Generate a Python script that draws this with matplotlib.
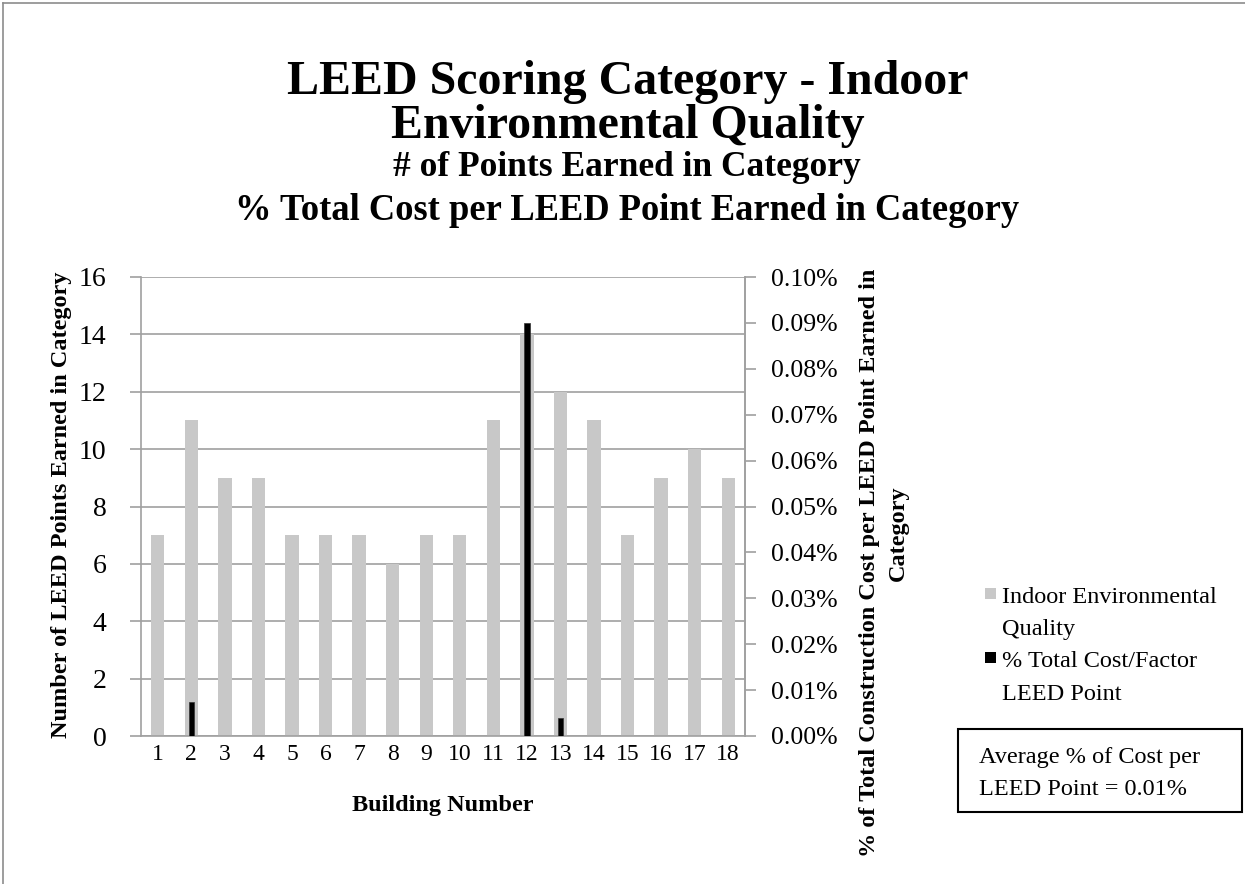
import matplotlib
matplotlib.use("Agg")
import matplotlib.pyplot as plt
from matplotlib.lines import Line2D
import numpy as np

plt.rcParams['font.family'] = ['Liberation Serif', 'DejaVu Serif']

buildings = [str(i) for i in range(1, 19)]
ieq_points = [7, 11, 9, 9, 7, 7, 7, 6, 7, 7, 11, 14, 12, 11, 7, 9, 10, 9]
pct_cost = [0, 0.0075, 0, 0, 0, 0, 0, 0, 0, 0, 0, 0.090, 0.0039, 0, 0, 0, 0, 0]

W, H = 1245, 884
fig = plt.figure(figsize=(W / 100, H / 100), dpi=100)

def fx(px):
    return px / W

def fy(py):
    return 1 - py / H

# outer chart border (top and left visible)
fig.add_artist(Line2D([fx(3), 1], [fy(3), fy(3)], color='#8c8c8c', lw=1.2))
fig.add_artist(Line2D([fx(3), fx(3)], [fy(3), 0], color='#8c8c8c', lw=1.2))

ax = fig.add_axes([fx(141), fy(736), fx(745) - fx(141), fy(277) - fy(736)])
x = np.arange(len(buildings))
grid_c = '#a0a0a0'
gray_c = '#c8c8c8'

ax.bar(x, ieq_points, width=0.4, color=gray_c, zorder=2)
ax.set_ylim(0, 16)
ax.set_yticks(range(0, 17, 2))
ax.set_xlim(-0.5, len(buildings) - 0.5)
ax.set_xticks(x)
ax.set_xticklabels(buildings, fontsize=17)
ax.tick_params(axis='x', length=0, pad=6)
ax.tick_params(axis='y', labelsize=20, length=8, color=grid_c, width=1.2, pad=17)
ax.yaxis.grid(True, color=grid_c, lw=1.2, zorder=0)
ax.set_axisbelow(True)
for s in ['left', 'bottom', 'right']:
    ax.spines[s].set_color(grid_c)
    ax.spines[s].set_linewidth(1.2)
ax.spines['top'].set_visible(False)

ax2 = ax.twinx()
ax2.bar(x, pct_cost, width=0.16, color='black', edgecolor='#333333', lw=0.5, zorder=3)
ax2.set_ylim(0, 0.10)
ax2.set_yticks(np.arange(0, 0.1001, 0.01))
ax2.yaxis.set_major_formatter(plt.FuncFormatter(lambda v, p: f"{v:.2f}%"))
ax2.tick_params(axis='y', labelsize=18.5, length=8, color=grid_c, width=1.2, pad=11)
for s in ['left', 'bottom', 'top']:
    ax2.spines[s].set_visible(False)
ax2.spines['right'].set_color(grid_c)
ax2.spines['right'].set_linewidth(1.2)

# titles
fig.text(fx(628), fy(82), "LEED Scoring Category - Indoor", ha='center', va='center',
         fontsize=34.5, fontweight='bold')
fig.text(fx(628), fy(126), "Environmental Quality", ha='center', va='center',
         fontsize=34.5, fontweight='bold')
fig.text(fx(627), fy(168), "# of Points Earned in Category", ha='center', va='center',
         fontsize=25.5, fontweight='bold')
fig.text(fx(627), fy(211), "% Total Cost per LEED Point Earned in Category", ha='center',
         va='center', fontsize=26.3, fontweight='bold')

# axis labels
fig.text(fx(443), fy(805), "Building Number", ha='center', va='center', fontsize=17.5,
         fontweight='bold')
fig.text(fx(62), fy(505), "Number of LEED Points Earned in Category", ha='center',
         va='center', rotation=90, fontsize=17.5, fontweight='bold')
fig.text(fx(870), fy(563), "% of Total Construction Cost per LEED Point Earned in",
         ha='center', va='center', rotation=90, fontsize=17.5, fontweight='bold')
fig.text(fx(898), fy(533), "Category", ha='center', va='center', rotation=90,
         fontsize=17.5, fontweight='bold')

# legend (drawn manually to match spacing)
legend_items = [
    (gray_c, ["Indoor Environmental", "Quality"], 588),
    ('black', ["% Total Cost/Factor", "LEED Point"], 652),
]
for color, lines, top in legend_items:
    fig.add_artist(plt.Rectangle((fx(985), fy(top + 11)), fx(11), 11 / H,
                                 transform=fig.transFigure, facecolor=color,
                                 edgecolor='none'))
    for i, line in enumerate(lines):
        fig.text(fx(1002), fy(top + 15 + 32.5 * i), line, ha='left', va='baseline',
                 fontsize=17.5)

# annotation box
for i, line in enumerate(["Average % of Cost per", "LEED Point = 0.01%"]):
    fig.text(fx(979), fy(763 + 32 * i), line, ha='left', va='baseline', fontsize=17.5)
fig.add_artist(plt.Rectangle((fx(958), fy(812)), fx(1242) - fx(958), fy(729) - fy(812),
                             transform=fig.transFigure, fill=False, edgecolor='black', lw=1.5))

fig.savefig("out.png", dpi=100)
